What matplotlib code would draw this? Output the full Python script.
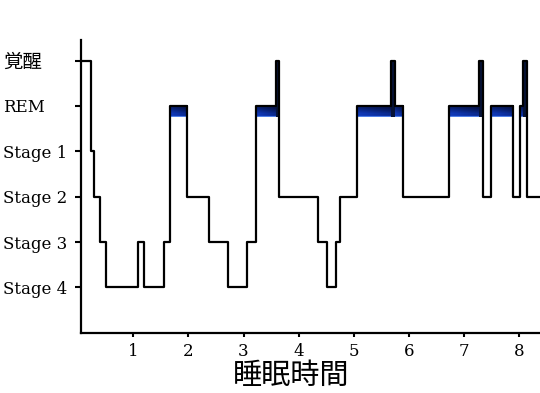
import numpy as np
import matplotlib
matplotlib.use("Agg")
import matplotlib.pyplot as plt
from matplotlib.colors import LinearSegmentedColormap

plt.rcParams['font.family'] = ['DejaVu Serif', 'Noto Sans CJK JP']

# 睡眠段階 (0=Stage4 ... 5=覚醒)
stage_labels = ['Stage 4', 'Stage 3', 'Stage 2', 'Stage 1', 'REM', '覚醒']
# 各区間の開始時刻 (時間) と最後の終了時刻
t_edges = [0, 0.23, 0.29, 0.40, 0.51, 1.08, 1.20, 1.55, 1.66, 1.98, 2.38,
           2.71, 3.06, 3.22, 3.58, 3.65, 4.35, 4.51, 4.68, 4.75, 5.05, 5.68,
           5.74, 5.89, 6.72, 7.27, 7.34, 7.49, 7.89, 8.02, 8.08, 8.14, 8.4]
stages = ['覚醒', 'Stage 1', 'Stage 2', 'Stage 3', 'Stage 4', 'Stage 3',
          'Stage 4', 'Stage 3', 'REM', 'Stage 2', 'Stage 3', 'Stage 4',
          'Stage 3', 'REM', '覚醒', 'Stage 2', 'Stage 3', 'Stage 4', 'Stage 3',
          'Stage 2', 'REM', '覚醒', 'REM', 'Stage 2', 'REM', '覚醒', 'Stage 2',
          'REM', 'Stage 2', 'REM', '覚醒', 'Stage 2']
x_ticks = [1, 2, 3, 4, 5, 6, 7, 8]

lev = [stage_labels.index(s) for s in stages]
rem = stage_labels.index('REM')
wake = stage_labels.index('覚醒')
band = 0.25

fig = plt.figure(figsize=(5.4, 3.93), dpi=100)
ax = fig.add_axes([0.15, 0.153, 0.85, 0.745])

# REMの帯: 上が濃紺、下が明るい青
cmap = LinearSegmentedColormap.from_list('rem', ['#6f9cf0', '#1f52d8', '#0f36b0', '#082070', '#040c38'])
yy = np.linspace(1, 0, 10)[:, None]
xx = np.linspace(0, 1, 40)[None, :]
grad = 0.35 + 0.45 * yy + 0.2 * xx
grad[-1, :] = 0.1

for i, s in enumerate(lev):
    t0, t1 = t_edges[i], t_edges[i + 1]
    if s == rem:
        ax.imshow(grad, cmap=cmap, vmin=0, vmax=1, aspect='auto',
                  extent=[t0, t1, rem - band, rem], zorder=1, interpolation='nearest')
    if s == wake and i > 0:
        ax.bar(t0, wake - (rem - band), width=t1 - t0, bottom=rem - band,
               align='edge', color='#061338', zorder=1)

ax.step(t_edges, lev + [lev[-1]], where='post', color='black', lw=1.6, zorder=2)

ax.set_xlim(0.05, 8.38)
ax.set_ylim(-1, 5.45)
ax.set_xticks(x_ticks)
ax.set_xticklabels([str(v) for v in x_ticks], fontsize=12)
ax.set_yticks(range(len(stage_labels)))
ax.set_yticklabels(stage_labels, fontsize=12)
for lab in ax.get_yticklabels():
    lab.set_horizontalalignment('left')
    if lab.get_text() == '覚醒':
        lab.set_fontsize(14)
ax.tick_params(axis='y', length=4, width=1.5, pad=52)
ax.tick_params(axis='x', length=3, width=1.5, pad=4)
for sp in ['top', 'right']:
    ax.spines[sp].set_visible(False)
for sp in ['left', 'bottom']:
    ax.spines[sp].set_linewidth(1.6)

fig.text(0.54, 0.043, '睡眠時間', family='Noto Sans CJK JP', fontsize=21,
         ha='center', va='center')

fig.savefig('out.png', dpi=100)
